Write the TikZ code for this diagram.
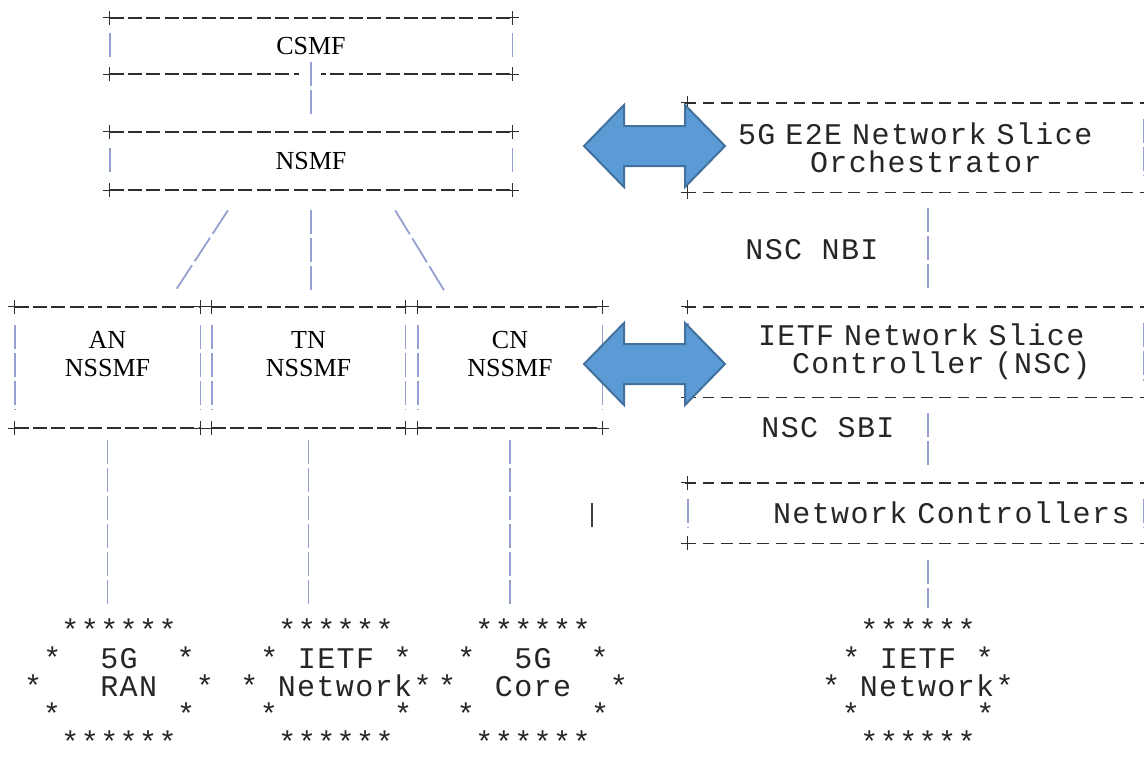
\documentclass[tikz,border=0pt]{standalone}
\usepackage{fontspec}
\setmainfont{Liberation Serif}
\newfontfamily\asciitt{Liberation Mono}[LetterSpace=4.7]
\usetikzlibrary{positioning}
\definecolor{blkfill}{RGB}{91,155,213}
\definecolor{blkdraw}{RGB}{65,113,156}
\definecolor{barcol}{RGB}{150,160,208}
\definecolor{dashcol}{RGB}{45,45,50}

\begin{document}
\begin{tikzpicture}[
        x=0.5pt, y=-0.5pt, % 1 пиксель = 0.5pt
        serif/.style={font=\fontsize{13}{14}\selectfont, text=black},
        mono/.style={font=\asciitt\fontsize{15}{14}\selectfont, text=black!85},
        lbox/.style={serif, align=center, inner sep=0pt}, % левые блоки
        rbox/.style={mono, align=left, text width=227.5pt, inner xsep=0pt, inner ysep=0pt}, % правые блоки
        cloud/.style={mono, align=center, inner sep=0pt}, % облака из звёздочек
        hdash/.style={dashcol, line width=1pt, dash pattern=on 7pt off 2.2pt},
        mdash/.style={dashcol, line width=0.9pt, dash pattern=on 5.8pt off 3.3pt},
        vbar/.style={barcol, line width=0.9pt, dash pattern=on 12pt off 2pt},
        slash/.style={barcol, line width=0.9pt, dash pattern=on 14pt off 2.4pt},
        blk/.style={fill=blkfill, draw=blkdraw, line width=1pt},
        crs/.pic={\draw[dashcol, line width=0.8pt] (-3.5pt,0) -- (3.5pt,0) (0,-3.5pt) -- (0,3.5pt);},
    ]
    \useasboundingbox (0,0) rectangle (1144,756);

    % левая часть
    \node[lbox, minimum width=201pt, minimum height=28pt] (csmf) at (311,46) {CSMF};
    \node[lbox, minimum width=201pt, minimum height=29pt] (nsmf) at (311,161) {NSMF};
    \node[lbox, minimum width=92.5pt, minimum height=60.5pt] (an) at (107.5,367.5) {AN\\NSSMF\\\mbox{}};
    \node[lbox, minimum width=96.5pt, minimum height=60.5pt] (tn) at (308.5,367.5) {TN\\NSSMF\\\mbox{}};
    \node[lbox, minimum width=92pt, minimum height=60.5pt] (cn) at (510,367.5) {CN\\NSSMF\\\mbox{}};

    % правая часть
    \node[rbox, minimum height=44.5pt] (orch) at (915.5,147.5) {\hspace*{25pt}5G E2E Network Slice\\\hspace*{61pt}Orchestrator};
    \node[rbox, minimum height=45pt] (nsc) at (915.5,352) {\hspace*{35pt}IETF Network Slice\\\hspace*{52pt}Controller (NSC)};
    \node[rbox, minimum height=30pt] (ctrl) at (915.5,513) {\hspace*{42.5pt}Network Controllers};

    % облака
    \node[cloud] (ran) at (119,686) {******\\*~~5G~~*\\*~~~RAN~~*\\*~~~~~~*\\******};
    \node[cloud] (ietfA) at (336,686) {******\\*~IETF~*\\*~Network*\\*~~~~~~*\\******};
    \node[cloud] (core) at (533,686) {******\\*~~5G~~*\\*~~Core~~*\\*~~~~~~*\\******};
    \node[cloud] (ietfB) at (918,686) {******\\*~IETF~*\\*~Network*\\*~~~~~~*\\******};

    % рамки из символов
    \foreach \b/\s in {csmf/7.5pt, nsmf/8pt, an/9.25pt, tn/9.25pt, cn/9.25pt}{
        \draw[hdash] (\b.north west) -- (\b.north east);
        \draw[hdash] (\b.south west) -- (\b.south east);
        \draw[vbar, shorten <=\s, shorten >=\s] (\b.north west) -- (\b.south west);
        \draw[vbar, shorten <=\s, shorten >=\s] (\b.north east) -- (\b.south east);
        \foreach \k in {north west, north east, south west, south east}
            \pic at (\b.\k) {crs};
    }
    \foreach \b in {orch, nsc, ctrl}{
        \draw[mdash] ([xshift=-1.5pt]\b.north west) -- ++(245pt,0);
        \draw[mdash] ([xshift=-1.5pt]\b.south west) -- ++(245pt,0);
        \draw[vbar, shorten <=8pt, shorten >=8pt] (\b.north west) -- (\b.south west);
        \draw[vbar, shorten <=8pt, shorten >=8pt] (\b.north east) -- (\b.south east);
        \pic at (\b.north west) {crs};
        \pic at (\b.south west) {crs};
    }

    % связи
    \fill[white] ([xshift=-6pt,yshift=-1pt]csmf.south) rectangle ([xshift=5pt,yshift=1pt]csmf.south);
    \draw[vbar, shorten >=7.5pt] ([yshift=6pt]csmf.south) -- (nsmf.north);
    \draw[slash, shorten <=11.9pt, shorten >=8.9pt] ([xshift=-35pt]nsmf.south) -- ([xshift=28.75pt]an.north);
    \draw[vbar, shorten <=10pt, shorten >=7.5pt] (nsmf.south) -- (nsmf.south |- tn.north);
    \draw[slash, shorten <=11.7pt, shorten >=9.3pt] ([xshift=36pt]nsmf.south) -- ([xshift=-28pt]cn.north);
    \foreach \b/\c in {an/ran, tn/ietfA, cn/core}
        \draw[vbar, shorten <=6pt, shorten >=5.5pt] (\b.south) -- (\b.south |- \c.north);
    \draw[vbar, shorten <=8pt, shorten >=7.5pt] ([xshift=6.25pt]orch.south) -- ([xshift=6.25pt]nsc.north)
        node[mono, midway, left=21pt] {NSC NBI};
    \draw[vbar, shorten <=8pt, shorten >=8pt] ([xshift=6.25pt]nsc.south) -- ([xshift=6.25pt]ctrl.north)
        node[mono, pos=0.35, left=13pt] {NSC SBI};
    \draw[vbar, shorten <=8.5pt, shorten >=5.5pt] ([xshift=6.25pt]ctrl.south) -- ([xshift=5pt]ietfB.north);
    \coordinate (tick) at (592,503);
    \draw[black!75, line width=1.1pt] (tick) -- ++(0,24);

    % стрелки
    \foreach \ay in {146,364}
        \draw[blk] (584,\ay) -- (624,\ay-41) -- (624,\ay-20) -- (685,\ay-20) -- (685,\ay-41) -- (725,\ay)
            -- (685,\ay+41) -- (685,\ay+20) -- (624,\ay+20) -- (624,\ay+41) -- cycle;
\end{tikzpicture}
\end{document}
